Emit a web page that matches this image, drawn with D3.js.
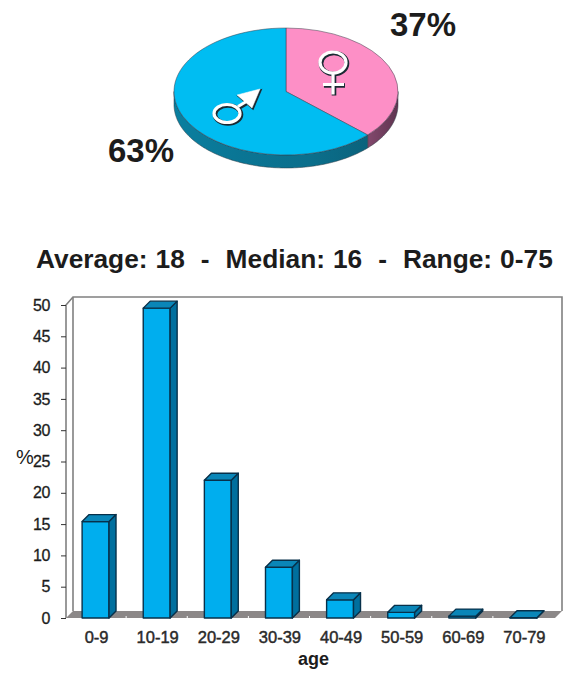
<!DOCTYPE html>
<html>
<head>
<meta charset="utf-8">
<script src="https://cdn.jsdelivr.net/npm/d3@7"></script>
<style>
html,body{margin:0;padding:0;background:#fff;}
svg{display:block;}
text{font-family:"Liberation Sans",Arial,sans-serif;fill:#1c1c1c;}
</style>
</head>
<body>
<svg id="chart" width="565" height="675"></svg>
<script>
// Sex split
const sexLabels = ["female", "male"];
const sexShares = [37, 63];
const sexColors = ["#fd8fc6", "#00bdf2"];

// Age distribution
const ageGroups = ["0-9", "10-19", "20-29", "30-39", "40-49", "50-59", "60-69", "70-79"];
const agePercents = [15.4, 49.5, 22, 8.1, 2.9, 0.9, 0.3, 0.05];
const percentTicks = [0, 5, 10, 15, 20, 25, 30, 35, 40, 45, 50];
const summaryTitle = "Average: 18  -  Median: 16  -  Range: 0-75";

const svg = d3.select("#chart");
const defs = svg.append("defs");

/* ---------- tilted pie ---------- */
const pieCx = 286, pieCy = 91.5, pieRx = 112, pieRy = 63.5, pieDepth = 13;
const pieGen = d3.pie().sort(null).value(d => d)(sexShares);
const arcGen = d3.arc().innerRadius(0).outerRadius(pieRx);
const rimPoint = (a, dy) => [pieRx * Math.sin(a), -pieRy * Math.cos(a) + dy];

function wallGradient(id, stops) {
  const g = defs.append("linearGradient").attr("id", id)
    .attr("gradientUnits", "userSpaceOnUse")
    .attr("x1", -pieRx).attr("x2", pieRx).attr("y1", 0).attr("y2", 0);
  stops.forEach(([o, c]) => g.append("stop").attr("offset", o).attr("stop-color", c));
}
wallGradient("wallMale", [[0, "#0a7f9f"], [0.3, "#0a7594"], [0.6, "#0b6f8c"], [1, "#0a5c74"]]);
wallGradient("wallFemale", [[0, "#a05a80"], [0.8, "#94527a"], [1, "#5f3450"]]);

const pie = svg.append("g").attr("transform", `translate(${pieCx},${pieCy})`);
const wallFill = ["url(#wallFemale)", "url(#wallMale)"];

// Visible side wall: only the part of each slice facing the viewer
pieGen.forEach((s, i) => {
  const a0 = Math.max(s.startAngle, Math.PI / 2);
  const a1 = Math.min(s.endAngle, Math.PI * 1.5);
  if (a1 <= a0) return;
  const angles = d3.range(a0, a1, 0.02).concat([a1]);
  const outer = angles.map(a => rimPoint(a, 0));
  const inner = angles.slice().reverse().map(a => rimPoint(a, pieDepth));
  pie.append("path")
    .attr("d", d3.line()(outer.concat(inner)) + "Z")
    .attr("fill", wallFill[i])
    .attr("stroke", "#2d3b44").attr("stroke-width", 0.5);
});

// Top surface
pie.selectAll("path.slice").data(pieGen).join("path")
  .attr("class", "slice")
  .attr("d", arcGen)
  .attr("transform", `scale(1,${pieRy / pieRx})`)
  .attr("fill", (d, i) => sexColors[i])
  .attr("stroke", "#3a3a48").attr("stroke-width", 0.5)
  .attr("vector-effect", "non-scaling-stroke");

// Sex symbols: a dark shadow stroke below a white stroke
function symbol(drawShapes, dx, dy) {
  const g = pie.append("g").attr("transform", `translate(${dx},${dy})`);
  [["#1a2a33", 4.6, 1, 1], ["#ffffff", 3.2, 0, 0]].forEach(([color, w, ox, oy]) => {
    const layer = g.append("g").attr("transform", `translate(${ox},${oy})`)
      .attr("fill", "none").attr("stroke", color).attr("stroke-width", w);
    drawShapes(layer, color);
  });
}
symbol(layer => {
  layer.append("ellipse").attr("cx", 0).attr("cy", 0).attr("rx", 13).attr("ry", 10.5);
  layer.append("path").attr("d", "M0,11V32M-10,22H11");
}, 47, -29);
symbol((layer, color) => {
  layer.append("ellipse").attr("cx", 0).attr("cy", 0).attr("rx", 13).attr("ry", 9);
  layer.append("path").attr("d", "M11,-7L21,-13");
  layer.append("path").attr("d", "M10,-18.5L33,-24.5L25,-5.5Z")
    .attr("fill", color).attr("stroke-width", color === "#ffffff" ? 0.5 : 1.6);
}, -59, 22);

svg.append("text").attr("x", 390).attr("y", 36)
  .style("font-size", "33px").style("font-weight", "bold").text(sexShares[0] + "%");
svg.append("text").attr("x", 108).attr("y", 162)
  .style("font-size", "33px").style("font-weight", "bold").text(sexShares[1] + "%");

/* ---------- summary title ---------- */
svg.append("text").attr("x", 36).attr("y", 268)
  .style("font-size", "26.3px").style("font-weight", "bold").style("white-space", "pre")
  .style("word-spacing", "0.7px")
  .text(summaryTitle);

/* ---------- 3-D column chart ---------- */
const plotLeft = 66, plotRight = 555, plotBase = 618, plotTop = 305, depth = 7;
const x = d3.scaleBand().domain(ageGroups).range([plotLeft - 1, plotRight - 1]).paddingInner(0.56).paddingOuter(0.28);
const y = d3.scaleLinear().domain([0, 50]).range([plotBase, plotTop]);

const wallColor = "#808080";
const wall = svg.append("g");
// Back wall frame with the left side panel
wall.append("path")
  .attr("d", `M${plotLeft},${plotBase}V${plotTop}L${plotLeft + depth},${plotTop - depth - 1}H${plotRight + depth}V${plotBase - depth}`)
  .attr("fill", "none").attr("stroke", wallColor).attr("stroke-width", 1.6);
wall.append("path")
  .attr("d", `M${plotLeft + depth},${plotTop - depth - 1}V${plotBase - depth}`)
  .attr("fill", "none").attr("stroke", wallColor).attr("stroke-width", 1.6);
// Floor with small notches at the category boundaries
wall.append("path")
  .attr("d", `M${plotLeft},${plotBase}L${plotLeft + depth},${plotBase - depth}H${plotRight + depth}L${plotRight},${plotBase}Z`)
  .attr("fill", "#8c8888").attr("stroke", "none");
wall.selectAll("line.notch").data(ageGroups.slice(1)).join("line")
  .attr("class", "notch")
  .attr("x1", d => x(d) - (x.step() - x.bandwidth()) / 2).attr("x2", d => x(d) - (x.step() - x.bandwidth()) / 2)
  .attr("y1", plotBase - 2).attr("y2", plotBase)
  .attr("stroke", "#ffffff").attr("stroke-width", 1);

// Axes
const yAxis = svg.append("g").attr("transform", `translate(${plotLeft},0)`)
  .call(d3.axisLeft(y).tickValues(percentTicks).tickSize(5).tickPadding(11));
yAxis.select(".domain").remove();
yAxis.selectAll("line").attr("stroke", "#333");
yAxis.selectAll("text").style("font-size", "16px").style("font-family", '"Liberation Sans",Arial,sans-serif')
  .style("letter-spacing", "-0.4px").style("stroke", "#1c1c1c").style("stroke-width", 0.3);

const xAxis = svg.append("g").attr("transform", `translate(1,${plotBase})`)
  .call(d3.axisBottom(x).tickSize(0).tickPadding(13));
xAxis.select(".domain").remove();
xAxis.selectAll("text").style("font-size", "16.5px").style("font-family", '"Liberation Sans",Arial,sans-serif')
  .style("fill", "#2a2a2a").style("stroke", "#2a2a2a").style("stroke-width", 0.45);

svg.append("text").attr("x", 16).attr("y", 464).style("font-size", "20px").text("%");
svg.append("text").attr("x", 313.5).attr("y", 665).attr("text-anchor", "middle")
  .style("font-size", "18px").style("font-weight", "bold").text("age");

// Columns: front, side and top faces
const bars = svg.append("g").selectAll("g").data(ageGroups).join("g");
const barStroke = { stroke: "#07304a", width: 1.4 };
function face(sel, color, pathFn) {
  sel.append("path").attr("d", pathFn).attr("fill", color)
    .attr("stroke", barStroke.stroke).attr("stroke-width", barStroke.width).attr("stroke-linejoin", "round");
}
face(bars, "#00aeee", (d, i) => `M${x(d)},${plotBase}V${y(agePercents[i])}h${x.bandwidth()}V${plotBase}Z`);
face(bars, "#006f9e", (d, i) => {
  const r = x(d) + x.bandwidth();
  return `M${r},${plotBase}V${y(agePercents[i])}l${depth},${-depth}V${plotBase - depth}Z`;
});
face(bars, "#0a86b8", (d, i) => {
  const t = y(agePercents[i]);
  return `M${x(d)},${t}l${depth},${-depth}h${x.bandwidth()}l${-depth},${depth}Z`;
});
</script>
</body>
</html>
